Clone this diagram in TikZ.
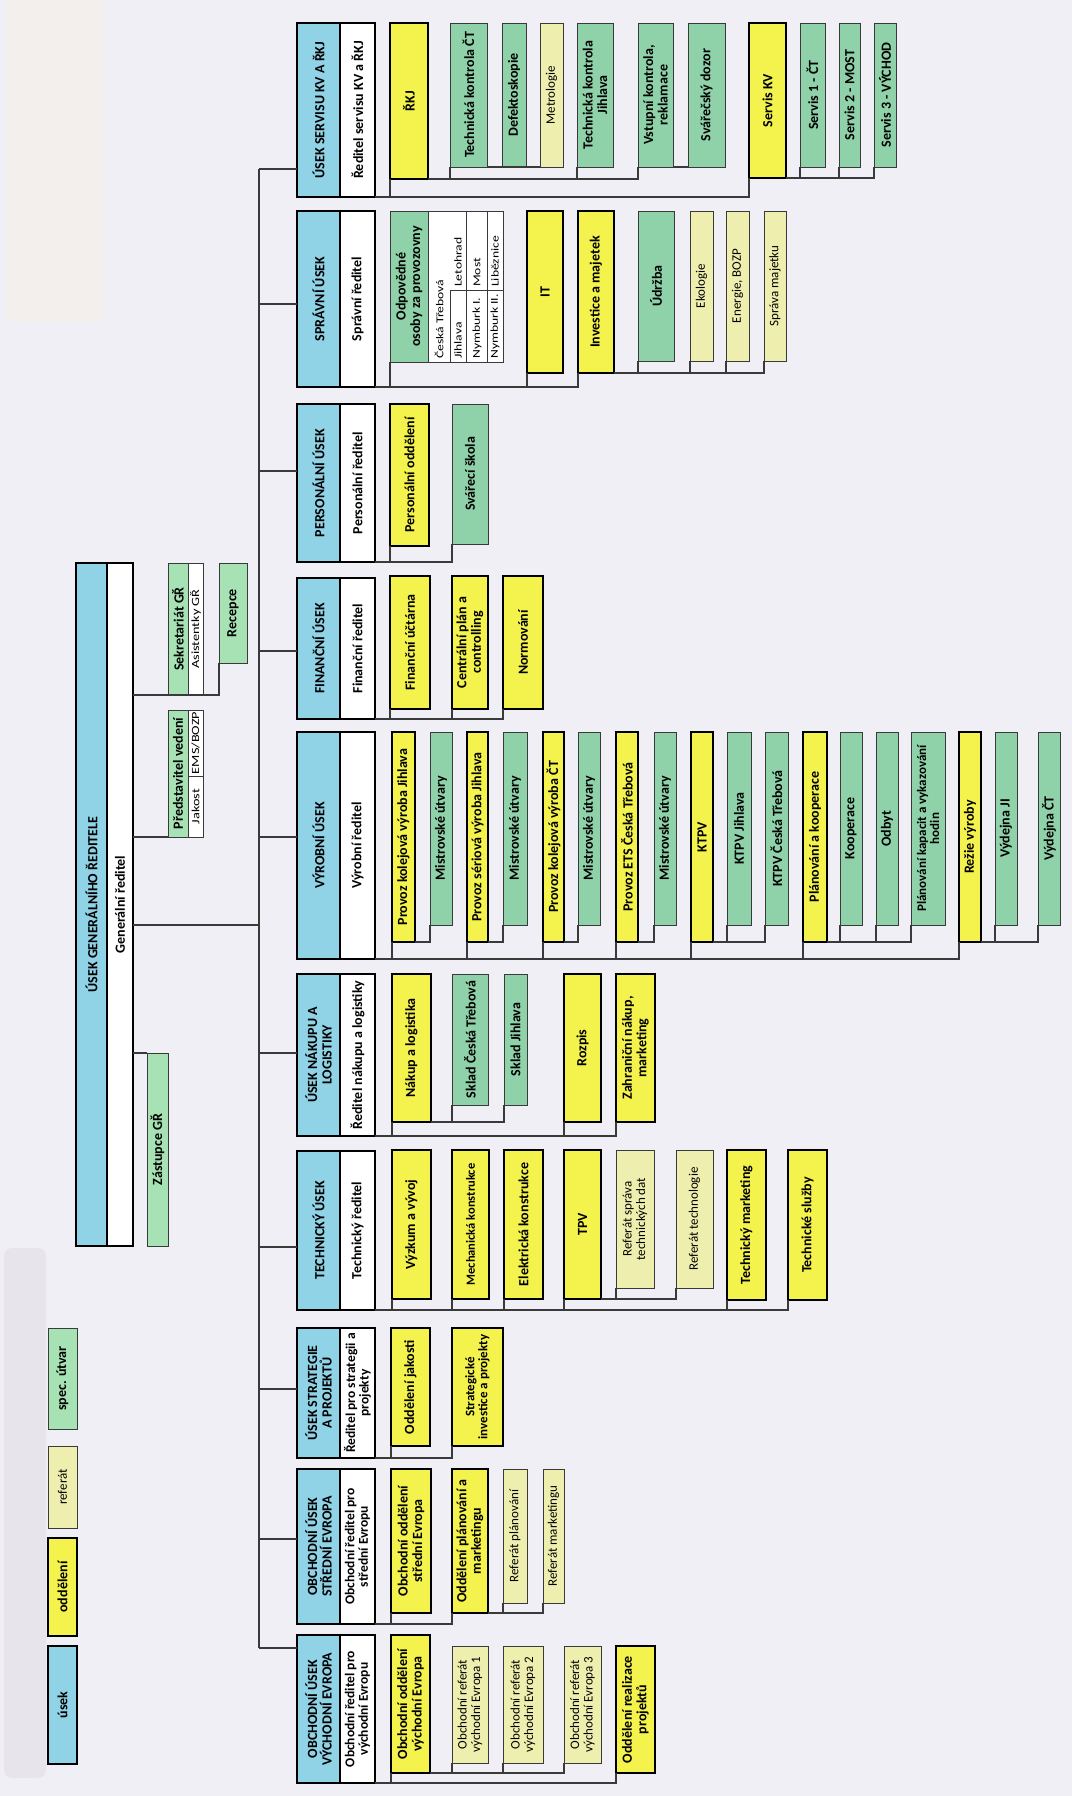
\documentclass[tikz,border=0pt]{standalone}
\usepackage{fontspec}
\setmainfont{Carlito}
\definecolor{cbg}{HTML}{F0EFF6}
\definecolor{cbeige}{HTML}{F3EFEC}
\definecolor{cgray}{HTML}{E7E5EB}
\definecolor{cblue}{HTML}{90D2E6}
\definecolor{cyel}{HTML}{F4F24C}
\definecolor{cpale}{HTML}{EEEFAE}
\definecolor{cgreen}{HTML}{8FD1A9}
\definecolor{cgreenl}{HTML}{A6E2B4}
\definecolor{cline}{HTML}{3A3A3A}
\newcommand\bx[7]{\node[#6,minimum width={(#5)-(#3)},minimum height={(#4)-(#2)}] (#1) at ({((#2)+(#4))/2},{((#3)+(#5))/2}) {#7};}
\newcommand\stub[2]{\draw[conn] (#1.north west) -- (#1.north west |- #2.south west);}
\newcommand\grp[2]{\draw[conn] (#1.south west) -| (#2.north west);}
\newcommand\wide[1]{\scalebox{1.3}[1]{#1}}
\begin{document}
\begin{tikzpicture}[x=1pt,y=-1pt,
  box/.style={rotate=90,inner sep=0pt,outer sep=0pt,align=center,font=\bfseries\fontsize{14}{14.5}\selectfont},
  usek/.style={box,fill=cblue,draw=black,line width=1.8pt},
  usekw/.style={box,fill=white,draw=black,line width=1.8pt,font=\bfseries\fontsize{14}{14}\selectfont},
  odd/.style={box,fill=cyel,draw=black,line width=1.8pt},
  ref/.style={box,fill=cpale,draw=cline,line width=1pt,font=\fontsize{13}{13.5}\selectfont},
  spec/.style={box,fill=cgreen,draw=cline,line width=1pt},
  specl/.style={box,fill=cgreenl,draw=cline,line width=1pt},
  wbox/.style={box,fill=white,draw=cline,line width=1pt,font=\fontsize{11}{12}\selectfont},
  conn/.style={draw=cline,line width=1.1pt},
  fs/.style={font=\bfseries\fontsize{#1}{#1}\selectfont},
  tt/.style={rotate=90,inner sep=0pt,anchor=west,font=\fontsize{10.5}{10.5}\selectfont},
  tl/.style={draw=cline,line width=0.8pt}
]
\fill[cbg] (0,0) rectangle (1072,1796);
\useasboundingbox (0,0) rectangle (1072,1796);
\fill[cbeige,rounded corners=6pt] (6,-10) rectangle (103,322);
\fill[cgray,rounded corners=8pt] (4,1248) rectangle (46,1778);

% legend
\bx{lg1}{48}{1646}{77}{1764}{usek}{úsek}
\bx{lg2}{48}{1538}{77}{1636}{odd}{oddělení}
\bx{lg3}{48}{1446}{77}{1528}{ref}{referát}
\bx{lg4}{48}{1328}{77}{1429}{specl}{spec. útvar}

% general director
\bx{grb}{76}{563}{107}{1246}{usek}{ÚSEK GENERÁLNÍHO ŘEDITELE}
\bx{grw}{107}{563}{133}{1246}{usekw}{Generální ředitel}
\bx{sek}{168}{563}{188}{695}{specl}{Sekretariát GŘ}
\bx{asi}{188}{563}{203}{695}{wbox}{\wide{Asistentky GŘ}}
\bx{rec}{219}{563}{247}{663}{specl}{Recepce}
\bx{pv}{168}{710}{188}{837}{specl}{Představitel vedení}
\bx{jak}{188}{776}{203}{837}{wbox}{\wide{Jakost}}
\bx{ems}{188}{710}{203}{776}{wbox}{\wide{EMS/BOZP}}
\bx{zas}{147}{1053}{168}{1246}{specl}{Zástupce GŘ}
\draw[conn] (grw.south |- sek.north west) -- (rec.north west |- sek.north west) -- (rec.north west);
\draw[conn] (grw.south |- pv.north west) -- (pv.north west);
\draw[conn] (grw.south |- zas.north east) -- (zas.north east);
\coordinate (bt) at (259,169);
\coordinate (bb) at (259,1648);
\draw[conn] (grw.south |- 0,925) -- (bt |- 0,925);
\draw[conn] (bt) -- (bb);

% departments
\bx{d1b}{297}{23}{340}{197}{usek}{ÚSEK SERVISU KV A ŘKJ}
\bx{d1w}{340}{23}{375}{197}{usekw}{Ředitel servisu KV a ŘKJ}
\bx{d2b}{297}{211}{340}{387}{usek}{SPRÁVNÍ ÚSEK}
\bx{d2w}{340}{211}{375}{387}{usekw}{Správní ředitel}
\bx{d3b}{297}{404}{340}{562}{usek}{PERSONÁLNÍ ÚSEK}
\bx{d3w}{340}{404}{375}{562}{usekw}{Personální ředitel}
\bx{d4b}{297}{578}{340}{719}{usek}{FINANČNÍ ÚSEK}
\bx{d4w}{340}{578}{375}{719}{usekw}{Finanční ředitel}
\bx{d5b}{297}{732}{340}{959}{usek}{VÝROBNÍ ÚSEK}
\bx{d5w}{340}{732}{375}{959}{usekw}{Výrobní ředitel}
\bx{d6b}{297}{974}{340}{1136}{usek}{ÚSEK NÁKUPU A\\LOGISTIKY}
\bx{d6w}{340}{974}{375}{1136}{usekw}{Ředitel nákupu a logistiky}
\bx{d7b}{297}{1151}{340}{1310}{usek}{TECHNICKÝ ÚSEK}
\bx{d7w}{340}{1151}{375}{1310}{usekw}{Technický ředitel}
\bx{d8b}{297}{1328}{340}{1458}{usek}{ÚSEK STRATEGIE\\A PROJEKTŮ}
\bx{d8w}{340}{1328}{375}{1458}{usekw,fs=13.5}{Ředitel pro strategii a\\projekty}
\bx{d9b}{297}{1469}{340}{1624}{usek}{OBCHODNÍ ÚSEK\\STŘEDNÍ EVROPA}
\bx{d9w}{340}{1469}{375}{1624}{usekw,fs=13.5}{Obchodní ředitel pro\\střední Evropu}
\bx{d10b}{297}{1635}{340}{1783}{usek}{OBCHODNÍ ÚSEK\\VÝCHODNÍ EVROPA}
\bx{d10w}{340}{1635}{375}{1783}{usekw,fs=13.5}{Obchodní ředitel pro\\východní Evropu}
\draw[conn] (bt) -- (d1b.north |- bt);
\draw[conn] (bt |- 0,304) -- (d2b.north |- 0,304);
\draw[conn] (bt |- 0,471) -- (d3b.north |- 0,471);
\draw[conn] (bt |- 0,651) -- (d4b.north |- 0,651);
\draw[conn] (bt |- 0,837) -- (d5b.north |- 0,837);
\draw[conn] (bt |- 0,1053) -- (d6b.north |- 0,1053);
\draw[conn] (bt |- 0,1247) -- (d7b.north |- 0,1247);
\draw[conn] (bt |- 0,1389) -- (d8b.north |- 0,1389);
\draw[conn] (bt |- 0,1539) -- (d9b.north |- 0,1539);
\draw[conn] (bb) -- (d10b.north |- bb);

% 1 servis
\bx{rkj}{390}{23}{428}{179}{odd}{ŘKJ}
\bx{tkct}{450}{23}{487}{167}{spec}{Technická kontrola ČT}
\bx{def}{502}{23}{526}{167}{spec}{Defektoskopie}
\bx{met}{540}{23}{563}{167}{ref}{Metrologie}
\bx{tkj}{577}{23}{613}{167}{spec}{Technická kontrola\\Jihlava}
\bx{vk}{638}{23}{673}{167}{spec}{Vstupní kontrola,\\reklamace}
\bx{svd}{688}{23}{725}{167}{spec}{Svářečský dozor}
\bx{skv}{749}{23}{786}{178}{odd}{Servis KV}
\bx{s1}{800}{23}{825}{167}{spec}{Servis 1 - ČT}
\bx{s2}{839}{23}{860}{167}{spec}{Servis 2 - MOST}
\bx{s3}{874}{23}{896}{167}{spec}{Servis 3 - VÝCHOD}
\grp{d1w}{skv} \stub{rkj}{d1w}
\grp{rkj}{vk} \stub{tkct}{rkj} \stub{tkj}{rkj}
\grp{tkct}{met}
\grp{vk}{svd}
\grp{skv}{s3} \stub{s1}{skv} \stub{s2}{skv}

% 2 spravni
\bx{odp}{390}{211}{428}{362}{spec}{Odpovědné\\osoby za provozovny}
\bx{tab}{428}{211}{503}{362}{wbox}{}
\draw[tl] (450,290) -- (450,362) (466,211) -- (466,362) (487,211) -- (487,362) (450,290) -- (503,290);
\node[tt] at (439,359) {\wide{Česká Třebová}};
\node[tt] at (458,359) {\wide{Jihlava}};
\node[tt] at (458,287) {\wide{Letohrad}};
\node[tt] at (477,359) {\wide{Nymburk I.}};
\node[tt] at (477,287) {\wide{Most}};
\node[tt] at (495,359) {\wide{Nymburk II.}};
\node[tt] at (495,287) {\wide{Liběznice}};
\bx{it}{527}{211}{563}{373}{odd}{IT}
\bx{inv}{578}{211}{614}{373}{odd}{Investice a majetek}
\bx{udr}{638}{211}{674}{361}{spec}{Údržba}
\bx{eko}{690}{211}{713}{361}{ref}{Ekologie}
\bx{ene}{726}{211}{749}{361}{ref}{Energie, BOZP}
\bx{spr}{764}{211}{786}{361}{ref}{Správa majetku}
\grp{d2w}{inv} \stub{odp}{d2w} \stub{it}{d2w}
\grp{inv}{spr} \stub{udr}{inv} \stub{eko}{inv} \stub{ene}{inv}

% 3 personalni
\bx{po}{390}{404}{429}{546}{odd}{Personální oddělení}
\bx{ss}{452}{404}{488}{544}{spec}{Svářecí škola}
\grp{d3w}{ss} \stub{po}{d3w}

% 4 financni
\bx{fu}{390}{576}{430}{709}{odd}{Finanční účtárna}
\bx{cp}{452}{576}{488}{709}{odd}{Centrální plán a\\controlling}
\bx{nor}{503}{576}{543}{709}{odd}{Normování}
\grp{d4w}{nor} \stub{fu}{d4w} \stub{cp}{d4w}

% 5 vyrobni
\bx{p1}{392}{732}{415}{942}{odd}{Provoz kolejová výroba Jihlava}
\bx{m1}{430}{732}{452}{925}{spec}{Mistrovské útvary}
\bx{p2}{467}{732}{488}{942}{odd}{Provoz sériová výroba Jihlava}
\bx{m2}{503}{732}{527}{925}{spec}{Mistrovské útvary}
\bx{p3}{543}{732}{564}{942}{odd}{Provoz kolejová výroba ČT}
\bx{m3}{578}{732}{600}{925}{spec}{Mistrovské útvary}
\bx{p4}{616}{732}{638}{942}{odd}{Provoz ETS Česká Třebová}
\bx{m4}{654}{732}{676}{925}{spec}{Mistrovské útvary}
\bx{ktpv}{691}{732}{713}{942}{odd}{KTPV}
\bx{ktj}{727}{732}{751}{925}{spec}{KTPV Jihlava}
\bx{ktc}{765}{732}{788}{925}{spec}{KTPV Česká Třebová}
\bx{pk}{803}{732}{827}{942}{odd}{Plánování a kooperace}
\bx{koo}{840}{732}{862}{925}{spec}{Kooperace}
\bx{odb}{876}{732}{898}{925}{spec}{Odbyt}
\bx{pkv}{911}{732}{945}{925}{spec,fs=13}{Plánování kapacit a vykazování\\hodin}
\bx{rv}{959}{732}{981}{942}{odd}{Režie výroby}
\bx{vj}{995}{732}{1017}{925}{spec}{Výdejna JI}
\bx{vc}{1038}{732}{1060}{925}{spec}{Výdejna ČT}
\grp{d5w}{rv} \stub{p1}{d5w} \stub{p2}{d5w} \stub{p3}{d5w} \stub{p4}{d5w} \stub{ktpv}{d5w} \stub{pk}{d5w}
\grp{p1}{m1} \grp{p2}{m2} \grp{p3}{m3} \grp{p4}{m4}
\grp{ktpv}{ktc} \stub{ktj}{ktpv}
\grp{pk}{pkv} \stub{koo}{pk} \stub{odb}{pk}
\grp{rv}{vc} \stub{vj}{rv}

% 6 nakup
\bx{nl}{392}{974}{431}{1122}{odd}{Nákup a logistika}
\bx{sct}{452}{974}{488}{1105}{spec}{Sklad Česká Třebová}
\bx{sj}{504}{974}{527}{1105}{spec}{Sklad Jihlava}
\bx{roz}{564}{974}{601}{1122}{odd}{Rozpis}
\bx{zn}{616}{974}{655}{1122}{odd}{Zahraniční nákup,\\marketing}
\grp{d6w}{zn} \stub{nl}{d6w} \stub{roz}{d6w}
\grp{nl}{sj} \stub{sct}{nl}

% 7 technicky
\bx{vv}{392}{1150}{431}{1299}{odd}{Výzkum a vývoj}
\bx{mk}{452}{1150}{489}{1299}{odd,fs=12.5}{Mechanická konstrukce}
\bx{ek}{504}{1150}{543}{1299}{odd}{Elektrická konstrukce}
\bx{tpv}{564}{1150}{601}{1299}{odd}{TPV}
\bx{rst}{616}{1150}{654}{1288}{ref}{Referát správa\\technických dat}
\bx{rt}{676}{1150}{713}{1288}{ref}{Referát technologie}
\bx{tm}{727}{1150}{766}{1300}{odd}{Technický marketing}
\bx{ts}{788}{1150}{827}{1300}{odd}{Technické služby}
\grp{d7w}{ts} \stub{vv}{d7w} \stub{mk}{d7w} \stub{ek}{d7w} \stub{tpv}{d7w} \stub{tm}{d7w}
\grp{tpv}{rt} \stub{rst}{tpv}

% 8 strategie
\bx{oj}{391}{1328}{430}{1446}{odd}{Oddělení jakosti}
\bx{si}{452}{1328}{503}{1446}{odd,fs=13}{Strategické\\investice a projekty}
\grp{d8w}{si} \stub{oj}{d8w}

% 9 stredni evropa
\bx{oos}{391}{1469}{431}{1613}{odd}{Obchodní oddělení\\střední Evropa}
\bx{opm}{452}{1469}{488}{1613}{odd}{Oddělení plánování a\\marketingu}
\bx{rp}{503}{1469}{527}{1603}{ref}{Referát plánování}
\bx{rm}{543}{1469}{564}{1603}{ref}{Referát marketingu}
\grp{d9w}{opm} \stub{oos}{d9w}
\grp{opm}{rm} \stub{rp}{opm}

% 10 vychodni evropa
\bx{oov}{391}{1635}{430}{1773}{odd}{Obchodní oddělení\\východní Evropa}
\bx{or1}{452}{1646}{488}{1763}{ref}{Obchodní referát\\východní Evropa 1}
\bx{or2}{503}{1646}{543}{1763}{ref}{Obchodní referát\\východní Evropa 2}
\bx{or3}{564}{1646}{601}{1763}{ref}{Obchodní referát\\východní Evropa 3}
\bx{orp}{616}{1646}{655}{1773}{odd}{Oddělení realizace\\projektů}
\grp{d10w}{orp} \stub{oov}{d10w}
\grp{oov}{or3} \stub{or1}{oov} \stub{or2}{oov}
\end{tikzpicture}
\end{document}
